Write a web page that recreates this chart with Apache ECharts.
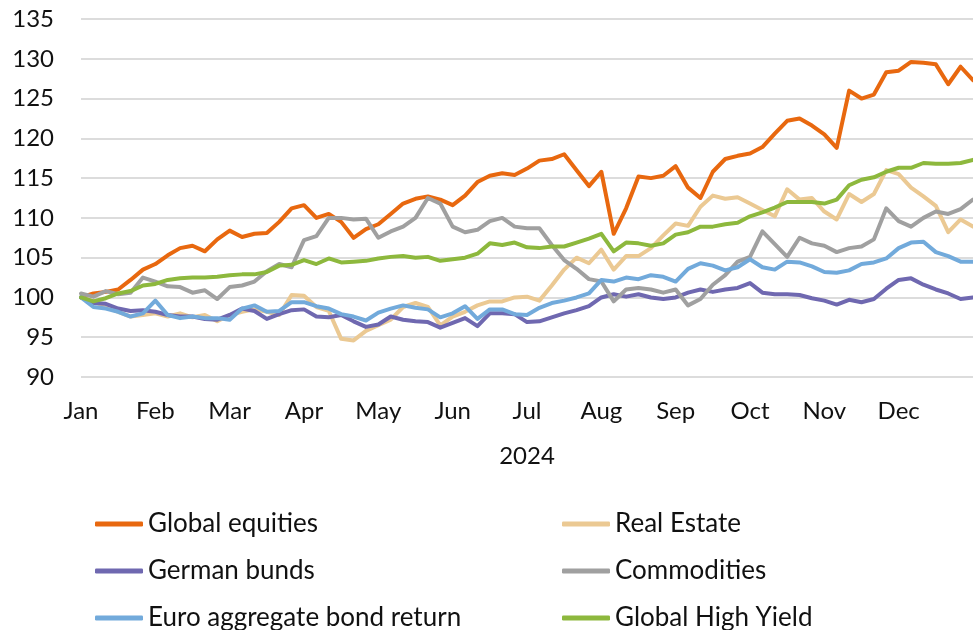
<!DOCTYPE html>
<html>
<head>
<meta charset="utf-8">
<script src="https://cdn.jsdelivr.net/npm/echarts@6/dist/echarts.min.js"></script>
<style>
  html, body { margin: 0; padding: 0; background: #fff; }
  #main { width: 973px; height: 630px; }
</style>
</head>
<body>
<div id="main"></div>
<script>
// x axis: about one sample per week, six per month, 2024
const months = ['Jan', 'Feb', 'Mar', 'Apr', 'May', 'Jun', 'Jul', 'Aug', 'Sep', 'Oct', 'Nov', 'Dec']
const yTicks = [90, 95, 100, 105, 110, 115, 120, 125, 130, 135]

const globalEquities = [
  100, 100.5, 100.7, 101, 102.2, 103.5, 104.2, 105.3, 106.2, 106.5, 105.8, 107.3,
  108.4, 107.6, 108.0, 108.1, 109.5, 111.2, 111.6, 110.0, 110.5, 109.5, 107.5, 108.6,
  109.2, 110.5, 111.8, 112.4, 112.7, 112.3, 111.6, 112.8, 114.5, 115.3, 115.6, 115.4,
  116.2, 117.2, 117.4, 118.0, 116.0, 114.0, 115.8, 108.0, 111.2, 115.2, 115.0, 115.3,
  116.5, 113.8, 112.5, 115.8, 117.4, 117.8, 118.1, 118.9, 120.6, 122.2, 122.5, 121.6,
  120.5, 118.8, 126.0, 125.0, 125.5, 128.3, 128.5, 129.6, 129.5, 129.3, 126.8, 129.0,
  127.3
]
const realEstate = [
  100, 99.5, 98.8, 98.2, 97.6, 97.8, 98.0, 97.6, 98.0, 97.5, 97.8, 97.0,
  97.8, 98.2, 98.5, 98.2, 97.8, 100.3, 100.2, 98.8, 98.3, 94.8, 94.6, 95.8,
  96.5, 97.2, 98.8, 99.3, 98.8, 96.5, 97.6, 98.2, 99.0, 99.5, 99.5, 100.0,
  100.1, 99.6, 101.5, 103.5, 105.0, 104.3, 106.0, 103.5, 105.2, 105.2, 106.2, 107.8,
  109.3, 109.0, 111.4, 112.8, 112.4, 112.6, 111.8, 111.0, 110.2, 113.6, 112.3, 112.5,
  110.8, 109.8, 113.0, 112.0, 113.0, 116.0, 115.5, 113.8, 112.7, 111.5, 108.2, 109.8,
  108.9
]
const germanBunds = [
  100, 99.3, 99.2, 98.6, 98.3, 98.4, 98.2, 97.8, 97.6, 97.6, 97.3, 97.2,
  97.8, 98.6, 98.3, 97.3, 97.9, 98.4, 98.5, 97.6, 97.5, 97.8, 97.0, 96.3,
  96.6, 97.6, 97.2, 97.0, 96.9, 96.2, 96.8, 97.4, 96.4, 98.0, 98.0, 97.9,
  96.9, 97.0, 97.5, 98.0, 98.4, 98.9, 100.0, 100.4, 100.1, 100.4, 100.0, 99.8,
  100.0, 100.6, 101.0, 100.7, 101.0, 101.2, 101.8, 100.6, 100.4, 100.4, 100.3, 99.9,
  99.6, 99.1, 99.7, 99.4, 99.8, 101.1, 102.2, 102.4, 101.6, 101.0, 100.5, 99.8,
  100.0
]
const commodities = [
  100.5, 100.1, 100.8, 100.4, 100.6, 102.5, 102.0, 101.4, 101.3, 100.6, 100.9, 99.8,
  101.3, 101.5, 102.0, 103.3, 104.2, 103.8, 107.2, 107.7, 110.0, 110.0, 109.8, 109.9,
  107.5, 108.3, 108.9, 110.0, 112.5, 111.8, 108.9, 108.2, 108.5, 109.6, 110.0, 108.9,
  108.7, 108.7, 106.6, 104.7, 103.6, 102.3, 102.0, 99.5, 101.0, 101.2, 101.0, 100.6,
  101.0, 99.0, 99.8, 101.6, 102.8, 104.5, 105.1, 108.3, 106.7, 105.1, 107.5, 106.8,
  106.5, 105.7, 106.2, 106.4, 107.3, 111.2, 109.6, 108.9, 110.0, 110.8, 110.5, 111.1,
  112.3
]
const euroAggregate = [
  100, 98.8, 98.6, 98.2, 97.6, 98.0, 99.6, 97.8, 97.4, 97.6, 97.4, 97.4,
  97.2, 98.6, 99.0, 98.2, 98.3, 99.4, 99.4, 98.9, 98.6, 97.9, 97.6, 97.1,
  98.1, 98.6, 99.0, 98.7, 98.5, 97.5, 98.0, 98.9, 97.3, 98.5, 98.5, 97.9,
  97.8, 98.7, 99.3, 99.6, 100.0, 100.5, 102.2, 102.0, 102.5, 102.3, 102.8, 102.6,
  102.0, 103.6, 104.3, 104.0, 103.4, 103.8, 104.8, 103.8, 103.5, 104.5, 104.4, 103.9,
  103.2, 103.1, 103.4, 104.2, 104.4, 104.9, 106.2, 106.9, 107.0, 105.7, 105.2, 104.5,
  104.5
]
const globalHighYield = [
  100, 99.5, 99.9, 100.5, 100.8, 101.5, 101.7, 102.2, 102.4, 102.5, 102.5, 102.6,
  102.8, 102.9, 102.9, 103.2, 104.0, 104.1, 104.7, 104.2, 104.9, 104.4, 104.5, 104.6,
  104.9, 105.1, 105.2, 105.0, 105.1, 104.6, 104.8, 105.0, 105.5, 106.8, 106.6, 106.9,
  106.3, 106.2, 106.4, 106.4, 106.9, 107.4, 108.0, 105.8, 106.9, 106.8, 106.5, 106.8,
  107.9, 108.2, 108.9, 108.9, 109.2, 109.4, 110.2, 110.7, 111.3, 112.0, 112.0, 112.0,
  111.8, 112.3, 114.1, 114.8, 115.1, 115.8, 116.3, 116.3, 116.9, 116.8, 116.8, 116.9,
  117.3
]

const seriesNames = ['Global equities', 'Real Estate', 'German bunds', 'Commodities', 'Euro aggregate bond return', 'Global High Yield']
const seriesData = [globalEquities, realEstate, germanBunds, commodities, euroAggregate, globalHighYield]
const colors = ['#e8680f', '#ebc993', '#6f68b0', '#a0a0a0', '#72aadb', '#8db83d']

// category labels: 6 samples per month plus the closing point
const periods = []
months.forEach(m => {
  for (let k = 1; k <= 6; k++) periods.push(m + '-' + k)
})
periods.push('end')

const series = seriesNames.map((name, i) => ({
  name: name,
  type: 'line',
  data: seriesData[i],
  showSymbol: false,
  smooth: false,
  lineStyle: { width: 4, color: colors[i], cap: 'round', join: 'round' },
  itemStyle: { color: colors[i] },
  z: 2 + i
}))

const font = 'Lato, "Open Sans", sans-serif'
const legendBase = {
  orient: 'vertical',
  icon: 'roundRect',
  padding: 0,
  height: 125,
  itemWidth: 48,
  itemHeight: 5,
  itemGap: 21,
  textStyle: { fontFamily: font, fontSize: 26, color: '#111', lineHeight: 26 }
}

const chart = echarts.init(document.getElementById('main'))
chart.setOption({
  animation: false,
  color: colors,
  grid: { left: 81, right: 0, top: 19, bottom: 253 },
  xAxis: {
    type: 'category',
    boundaryGap: false,
    data: periods,
    name: '2024',
    nameLocation: 'middle',
    nameGap: 67,
    nameTextStyle: { fontFamily: font, fontSize: 24, color: '#111' },
    axisLine: { show: false },
    axisTick: { show: false },
    axisLabel: {
      interval: (idx) => idx % 6 === 0 && idx < 72,
      formatter: (v) => v.split('-')[0],
      margin: 22,
      fontFamily: font,
      fontSize: 24,
      color: '#111'
    },
    splitLine: { show: false }
  },
  yAxis: {
    type: 'value',
    min: yTicks[0],
    max: yTicks[yTicks.length - 1],
    interval: 5,
    axisLine: { show: false },
    axisTick: { show: false },
    axisLabel: { margin: 27, fontFamily: font, fontSize: 24, color: '#111' },
    splitLine: { lineStyle: { color: '#d0d0d0', width: 1.5 } }
  },
  legend: [
    Object.assign({ left: 95, top: 511, data: [seriesNames[0], seriesNames[2], seriesNames[4]] }, legendBase),
    Object.assign({ left: 562, top: 511, data: [seriesNames[1], seriesNames[3], seriesNames[5]] }, legendBase)
  ],
  series: series
})
</script>
</body>
</html>
